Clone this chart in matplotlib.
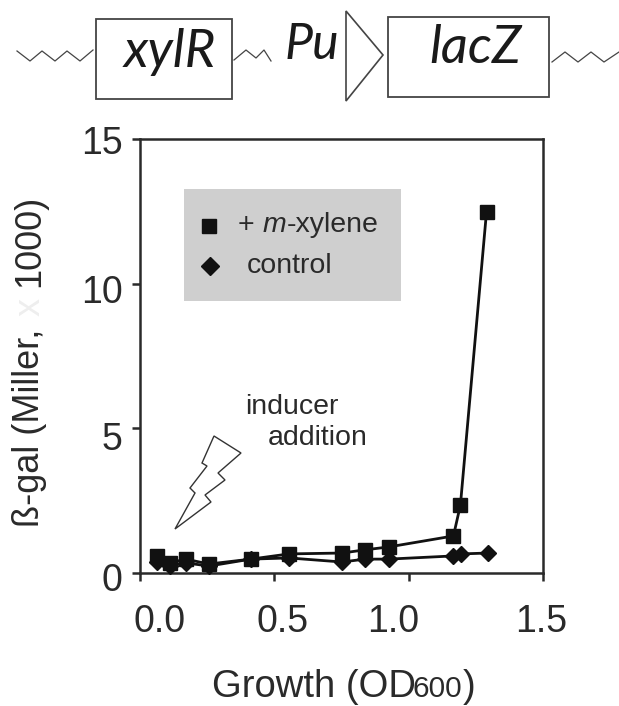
import matplotlib
matplotlib.use("Agg")
import matplotlib.pyplot as plt
from matplotlib.patches import Rectangle, Polygon
from matplotlib.transforms import ScaledTranslation

plt.rcParams['font.family'] = ['Liberation Sans', 'DejaVu Sans']

# values
xylene_x = [0.065, 0.113, 0.172, 0.258, 0.414, 0.556, 0.753, 0.838, 0.926, 1.167, 1.193, 1.29]
xylene_y = [0.59, 0.35, 0.48, 0.31, 0.48, 0.66, 0.69, 0.80, 0.90, 1.28, 2.35, 12.48]
control_x = [0.065, 0.113, 0.172, 0.258, 0.414, 0.556, 0.753, 0.838, 0.926, 1.167, 1.197, 1.295]
control_y = [0.38, 0.24, 0.35, 0.24, 0.48, 0.52, 0.38, 0.48, 0.48, 0.59, 0.66, 0.69]
x_ticks = [0.0, 0.5, 1.0, 1.5]
y_ticks = [0, 5, 10, 15]
# the printed labels sit off their ticks, in pixels
x_label_shift = [20, 9, -15, -2]
y_label_shift = [-4, -8, -5, -1]

W, H = 619, 706
INK = '#2a2a2a'

fig = plt.figure(figsize=(W / 100, H / 100), dpi=100)
ax = fig.add_axes([139.5 / W, 1 - 573 / H, (543 - 139.5) / W, (573 - 139) / H])
ax.set_xlim(0, 1.5)
ax.set_ylim(0, 15)

ax.plot(xylene_x, xylene_y, '-s', color='#111111', lw=2, ms=10, clip_on=False, zorder=3)
ax.plot(control_x, control_y, '-D', color='#111111', lw=2, ms=8.5, clip_on=False, zorder=3)

for s in ax.spines.values():
    s.set_linewidth(1.8)
    s.set_color(INK)
ax.set_xticks(x_ticks)
ax.set_xticklabels(['%.1f' % v for v in x_ticks])
ax.set_yticks(y_ticks)
ax.tick_params(length=6, width=1.8, color=INK, labelsize=27, labelcolor=INK)
ax.tick_params(axis='x', pad=16)
ax.tick_params(axis='y', pad=6)
for lab, dx in zip(ax.get_xticklabels(), x_label_shift):
    lab.set_transform(lab.get_transform() + ScaledTranslation(dx / 100, 0, fig.dpi_scale_trans))
for lab, dy in zip(ax.get_yticklabels(), y_label_shift):
    lab.set_transform(lab.get_transform() + ScaledTranslation(0, dy / 100, fig.dpi_scale_trans))

# overlay in pixel coordinates for the schematic and notes
ov = fig.add_axes([0, 0, 1, 1], facecolor='none')
ov.set_xlim(0, W)
ov.set_ylim(H, 0)
ov.axis('off')

# the x in the y label has nearly faded out of the scan
ov.text(30, 527, 'ß-gal (Miller,', fontsize=26, color=INK, rotation=90, ha='center', va='bottom')
ov.text(30, 307, 'x', fontsize=26, color='#eeeeee', rotation=90, ha='center', va='center')
ov.text(30, 287, '1000)', fontsize=26, color=INK, rotation=90, ha='center', va='bottom')

ov.text(212, 697, 'Growth (OD', fontsize=27.5, color=INK, va='baseline')
ov.text(413, 697, '600', fontsize=21.5, color=INK, va='baseline')
ov.text(463, 697, ')', fontsize=27.5, color=INK, va='baseline')

ov.add_patch(Rectangle((184, 189), 217, 112, fc='#cfcfcf', ec='none'))
ov.plot([209], [226], 's', color='#111111', ms=10)
ov.plot([210], [266], 'D', color='#111111', ms=9)
ov.text(238, 225, '+', fontsize=20.5, color=INK, va='center')
ov.text(263, 225, 'm', fontsize=20.5, color=INK, va='center', style='italic')
ov.text(287, 225, '-xylene', fontsize=20.5, color=INK, va='center')
ov.text(247, 266, 'control', fontsize=20.5, color=INK, va='center')
ov.text(245, 407, 'inducer', fontsize=20.5, color=INK, va='center')
ov.text(268, 438, 'addition', fontsize=20.5, color=INK, va='center')

bolt = [(214, 436), (202, 463), (207, 466), (190, 488), (195, 493), (175, 529), (211, 502), (205, 495), (225, 480), (218, 473), (241, 453)]
ov.add_patch(Polygon(bolt, closed=True, fc='white', ec='#333333', lw=1))

# gene schematic
ov.add_patch(Rectangle((96, 18.5), 136, 80.5, fc='white', ec='#444444', lw=1.3))
ov.add_patch(Rectangle((388, 17), 161, 80, fc='white', ec='#444444', lw=1.3))
ov.add_patch(Polygon([(346, 11), (383, 55), (346, 101)], closed=True, fc='white', ec='#444444', lw=1.2))
for wave in ([(17, 51), (30, 61), (42, 51), (55, 61), (67, 51), (80, 61), (93, 50)],
             [(234, 60), (246, 50), (256, 58), (264, 50), (271, 61)],
             [(552, 62), (565, 52), (578, 62), (591, 52), (604, 62), (619, 52)]):
    ov.plot(*zip(*wave), color='#444444', lw=0.9)
ov.text(170, 52, 'xylR', fontsize=38, style='italic', color='#1a1a1a', ha='center', va='center', family='Lato')
ov.text(312, 45, 'Pu', fontsize=36, style='italic', color='#1a1a1a', ha='center', va='center', family='Lato')
ov.text(475, 48, 'lacZ', fontsize=38, style='italic', color='#1a1a1a', ha='center', va='center', family='Lato')

fig.savefig('out.png', dpi=100)
